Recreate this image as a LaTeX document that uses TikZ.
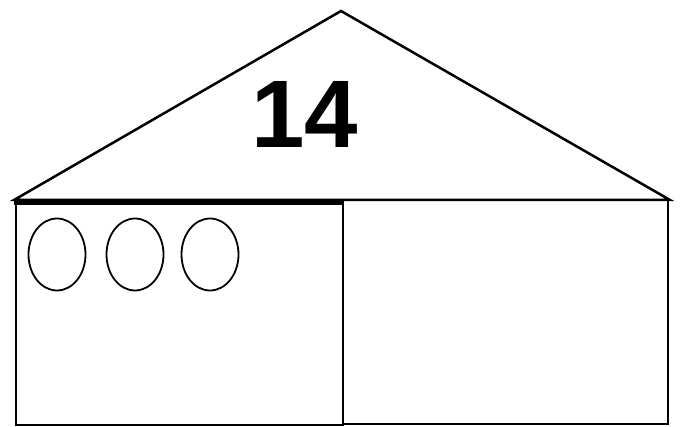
\documentclass[tikz,border=0pt]{standalone}
\usepackage{fontspec}
\setmainfont{Liberation Sans}
\usetikzlibrary{shapes.geometric}
\tikzset{
  wall/.style={line width=2.5pt, black, line join=miter},
  window/.style={ellipse, draw, line width=1.8pt, minimum width=57pt, minimum height=72pt, inner sep=0pt},
  roofnum/.style={font=\fontsize{96}{96}\selectfont\bfseries, inner sep=0pt},
}
\begin{document}
\begin{tikzpicture}[x=1pt,y=-1pt]
  \useasboundingbox (0,0) rectangle (680,427);

  % roof
  \draw[wall] (14,200) -- (341,11) -- (670,200) -- cycle;
  \node[roofnum] (num) at (305,114) {14};

  % body: left and right rooms
  \draw[wall] (343,200) rectangle (668,424);
  \draw[wall] (16,203) rectangle (343,425);
  \draw[line width=4pt] (14,203) -- (343,203);

  % windows
  \foreach \cx [count=\k] in {57,135,210}
    \node[window] (win\k) at (\cx,254.5) {};
\end{tikzpicture}
\end{document}
